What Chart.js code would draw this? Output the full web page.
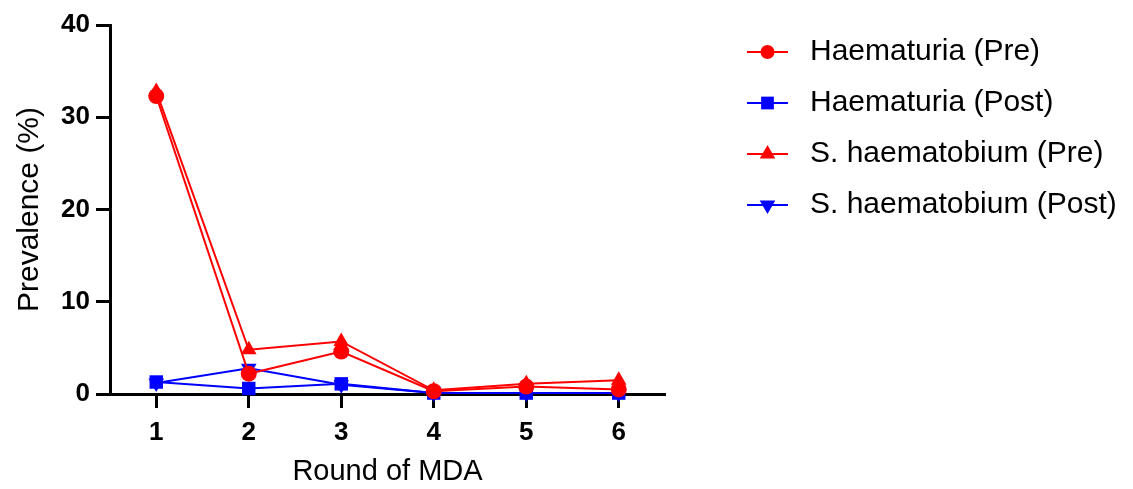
<!DOCTYPE html>
<html>
<head>
<meta charset="utf-8">
<script src="https://cdn.jsdelivr.net/npm/chart.js@4/dist/chart.umd.min.js"></script>
<style>
  html, body { margin: 0; padding: 0; background: #fff; }
  #wrap { width: 1133px; height: 489px; }
</style>
</head>
<body>
<div id="wrap"><canvas id="mdaChart"></canvas></div>
<script>
const rounds = [1, 2, 3, 4, 5, 6];
const haemPre = [32.3, 2.2, 4.6, 0.3, 0.8, 0.5];
const haemPost = [1.3, 0.6, 1.1, 0.1, 0.1, 0.1];
const shPre = [32.8, 4.8, 5.7, 0.4, 1.1, 1.5];
const shPost = [1.2, 2.8, 1.0, 0.1, 0.1, 0.1];
const yTicks = [0, 10, 20, 30, 40];

const RED = "#ff0000";
const BLUE = "#0000ff";
const FONT = "Liberation Sans, Arial, sans-serif";

function pts(vals) {
  return vals.map((v, i) => ({ x: rounds[i], y: v }));
}

function series(label, vals, color, style, radius) {
  return {
    label: label,
    data: pts(vals),
    borderColor: color,
    backgroundColor: color,
    borderWidth: 2,
    pointStyle: style,
    pointRadius: radius,
    pointHoverRadius: radius,
    pointBorderWidth: 0,
    pointRotation: 0,
    clip: false
  };
}

const datasets = [
  series("Haematuria (Pre)", haemPre, RED, "circle", 8),
  series("Haematuria (Post)", haemPost, BLUE, "rect", 9.5),
  series("S. haematobium (Pre)", shPre, RED, "triangle", 9),
  series("S. haematobium (Post)", shPost, BLUE, "triangle", 9)
];
datasets[3].pointRotation = 180;

// legend with line through the marker, drawn on the right
const sideLegend = {
  id: "sideLegend",
  afterDraw(chart) {
    const ctx = chart.ctx;
    const x0 = 747, x1 = 788, tx = 810;
    const rows = [52, 103, 154, 205];
    ctx.save();
    chart.data.datasets.forEach((ds, i) => {
      const y = rows[i];
      ctx.strokeStyle = ds.borderColor;
      ctx.lineWidth = 2;
      ctx.beginPath();
      ctx.moveTo(x0, y);
      ctx.lineTo(x1, y);
      ctx.stroke();
      ctx.fillStyle = ds.backgroundColor;
      Chart.helpers.drawPoint(ctx, {
        pointStyle: ds.pointStyle,
        radius: ds.pointStyle === "circle" ? 7 : 9,
        rotation: ds.pointRotation || 0,
        borderWidth: 0
      }, (x0 + x1) / 2, y);
      ctx.fillStyle = "#000";
      ctx.font = "30px " + FONT;
      ctx.textBaseline = "middle";
      ctx.textAlign = "left";
      ctx.fillText(ds.label, tx, y);
    });
    ctx.restore();
  }
};

new Chart(document.getElementById("mdaChart").getContext("2d"), {
  type: "line",
  data: { datasets: datasets },
  plugins: [sideLegend],
  options: {
    responsive: true,
    maintainAspectRatio: false,
    animation: false,
    layout: { padding: { top: 25, right: 468, left: 0, bottom: 0 } },
    plugins: {
      legend: { display: false },
      tooltip: { enabled: false }
    },
    scales: {
      x: {
        type: "linear",
        min: 0.5,
        max: 6.5,
        afterBuildTicks: s => { s.ticks = rounds.map(v => ({ value: v })); },
        afterFit: s => { s.height = 95; },
        border: { color: "#000", width: 3 },
        grid: {
          drawOnChartArea: false,
          drawTicks: true,
          tickLength: 14,
          tickWidth: 3,
          tickColor: "#000"
        },
        ticks: {
          color: "#000",
          padding: 9,
          font: { family: FONT, size: 26, weight: "bold" }
        },
        title: {
          display: true,
          text: "Round of MDA",
          color: "#000",
          padding: { top: 0, bottom: 0 },
          font: { family: FONT, size: 29 }
        }
      },
      y: {
        min: 0,
        max: 40,
        afterBuildTicks: s => { s.ticks = yTicks.map(v => ({ value: v })); },
        afterFit: s => { s.width = 110; },
        border: { color: "#000", width: 3 },
        grid: {
          drawOnChartArea: false,
          drawTicks: true,
          tickLength: 14,
          tickWidth: 3,
          tickColor: "#000"
        },
        ticks: {
          color: "#000",
          padding: 6,
          font: { family: FONT, size: 26, weight: "bold" }
        },
        title: {
          display: true,
          text: "Prevalence (%)",
          color: "#000",
          padding: { top: 12, bottom: 0 },
          font: { family: FONT, size: 30 }
        }
      }
    }
  }
});
</script>
</body>
</html>
